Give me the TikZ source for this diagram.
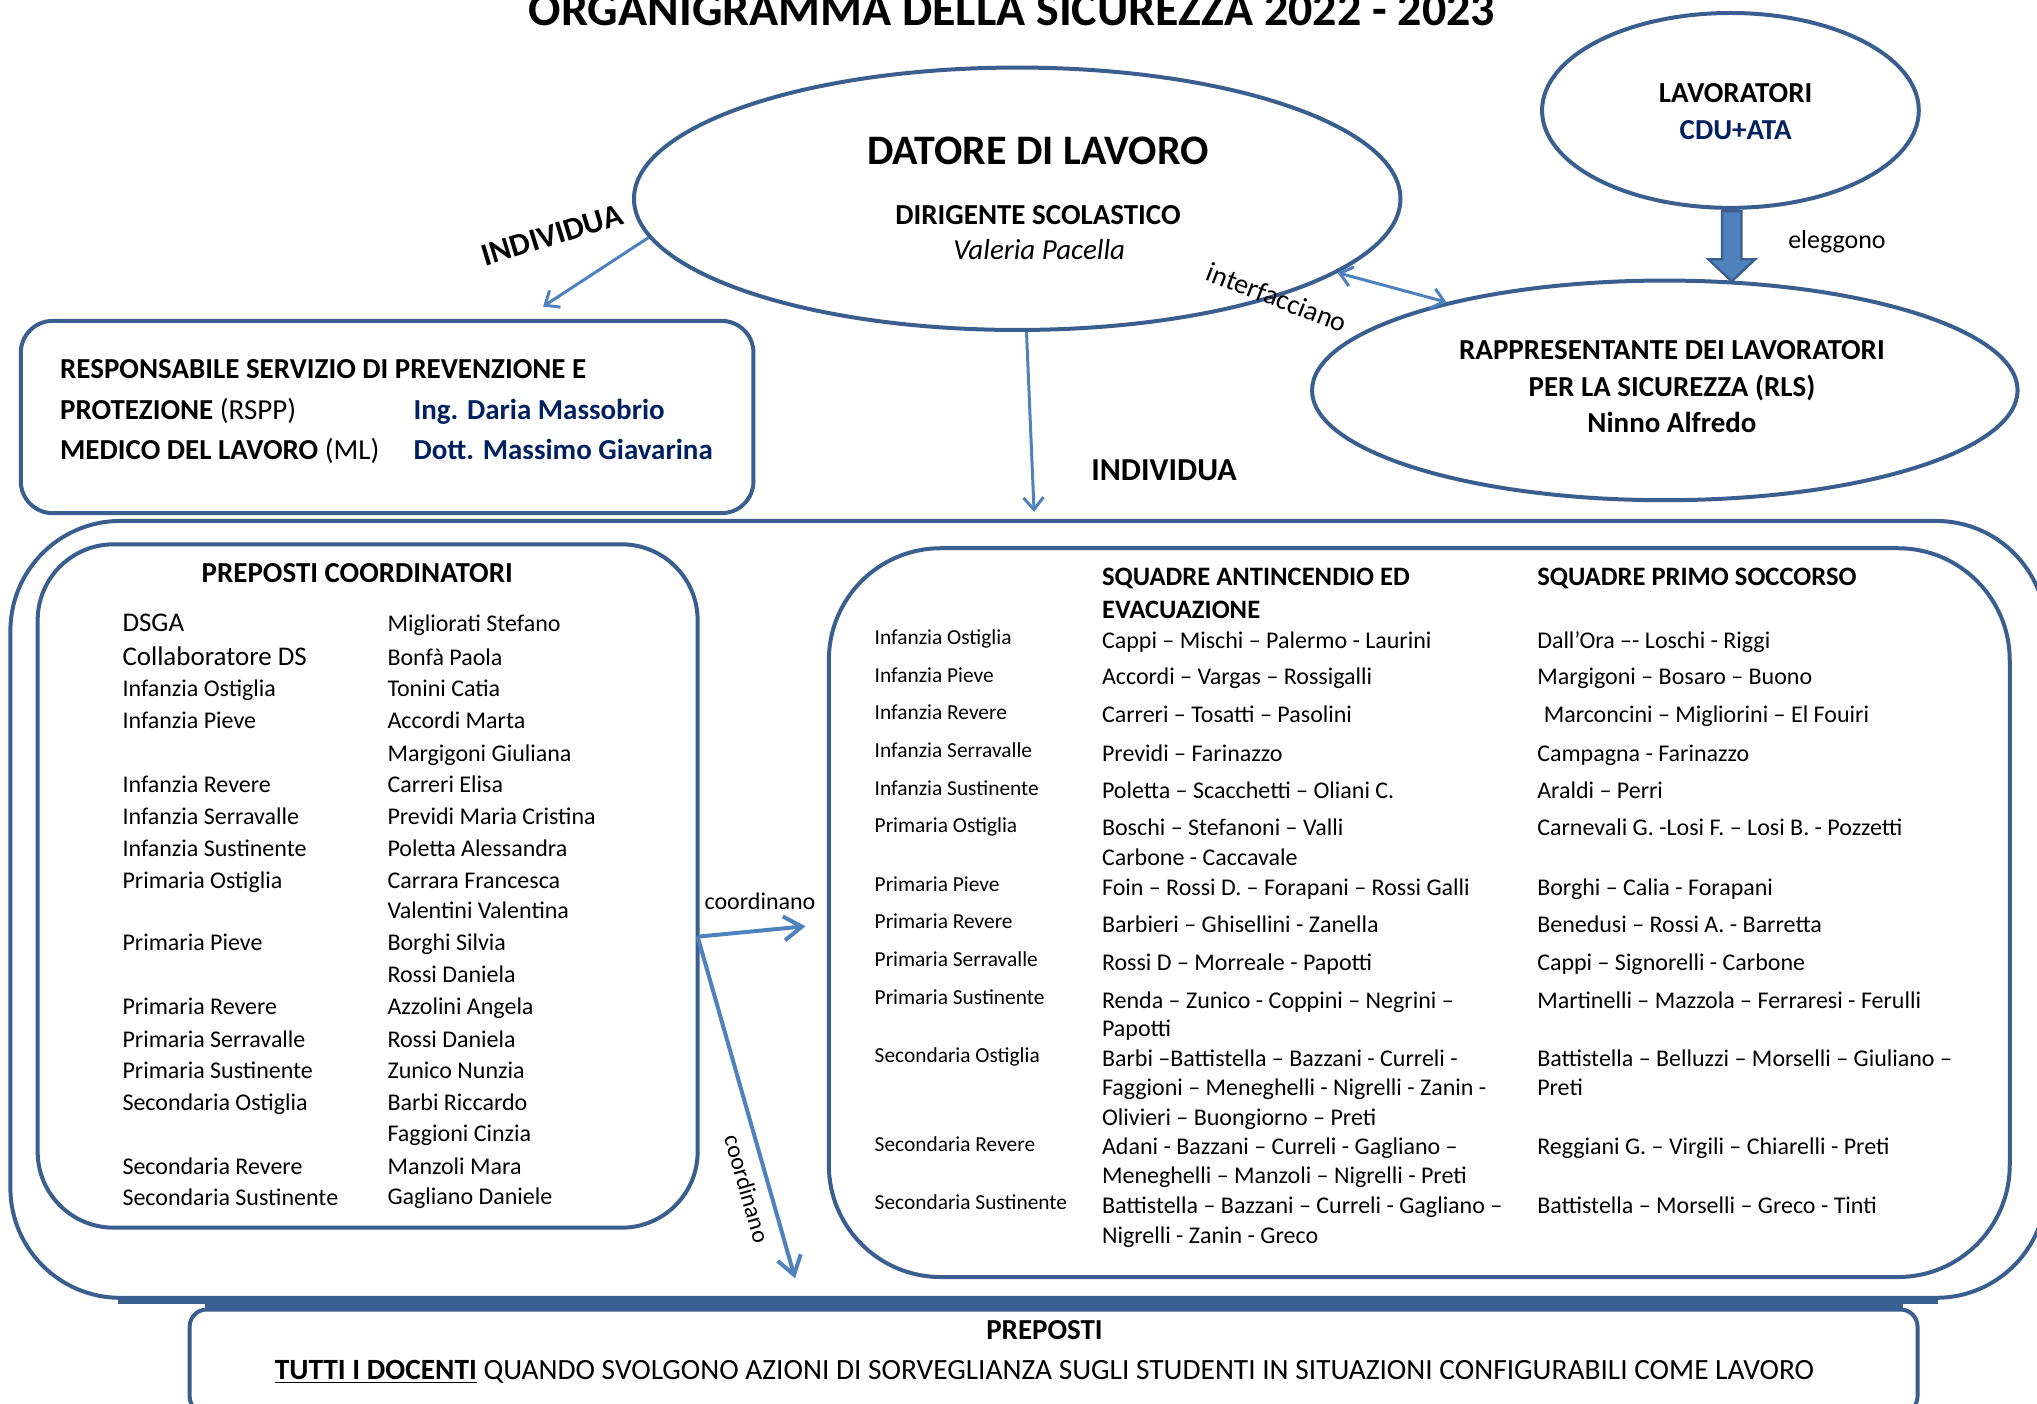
\documentclass[tikz,border=0pt]{standalone}
\usepackage{fontspec}
\setmainfont{Carlito}
\usetikzlibrary{shapes.geometric,arrows.meta,calc}
\definecolor{ol}{HTML}{3A5F8F}
\definecolor{ar}{HTML}{4F81BD}
\definecolor{nv}{HTML}{002060}
\newcommand\myfs[1]{\fontsize{#1}{#1}\selectfont}
\tikzset{
  box/.style={draw=ol, line width=2pt, rectangle, inner sep=0pt},
  ell/.style={draw=ol, line width=2pt, ellipse, inner sep=0pt},
  arr/.style={draw=ar, line width=1.5pt, -{Straight Barb[length=6pt,width=10pt]}},
  coarr/.style={draw=ar, line width=2pt, -{Straight Barb[length=9pt,width=12pt]}},
  tx/.style={inner sep=0pt, anchor=base west},
  tc/.style={inner sep=0pt, anchor=base},
  row/.style={tx, font=\myfs{12}},
  lab/.style={tx, font=\myfs{10.7}},
}
\begin{document}
\begin{tikzpicture}[x=0.65pt,y=-0.65pt]
\useasboundingbox (0,0) rectangle (1568,1080);
\clip (0,0) rectangle (1568,1080);

% title
\node[tc, font=\bfseries\myfs{24}] (title) at (779,20) {ORGANIGRAMMA DELLA SICUREZZA 2022 - 2023};

% ellipses
\node[ell, minimum width=383.5pt, minimum height=131.3pt] (datore) at (783,153) {};
\node[ell, minimum width=188.5pt, minimum height=97.5pt] (lav) at (1332,85) {};
\node[ell, minimum width=353pt, minimum height=109.9pt] (rls) at (1281.5,300.5) {};

\node[tc, font=\bfseries\myfs{21}] (d1) at (799,127) {DATORE DI LAVORO};
\node[tc, font=\bfseries\myfs{14.5}] (d2) at (799,173) {DIRIGENTE SCOLASTICO};
\node[tc, font=\itshape\myfs{14.5}] (d3) at (800,200) {Valeria Pacella};

\node[tc, font=\bfseries\myfs{14.5}] (l1) at (1336,79) {LAVORATORI};
\node[tc, font=\bfseries\myfs{14.5}, text=nv] (l2) at (1336,107) {CDU+ATA};

\node[tc, font=\bfseries\myfs{14.5}] (r1) at (1287,277) {RAPPRESENTANTE DEI LAVORATORI};
\node[tc, font=\bfseries\myfs{14.5}] (r2) at (1287,305) {PER LA SICUREZZA (RLS)};
\node[tc, font=\bfseries\myfs{14.5}] (r3) at (1287,333) {Ninno Alfredo};

% thick arrow lavoratori -> rls
\filldraw[draw=ol, fill=ar, line width=1.2pt, line join=miter]
  ($(lav.south)+(-6.5,1)$) -- ++(15,0) -- ++(0,37) -- ++(10.5,0)
  -- ($(lav.south)+(1,55)$) -- ++(-18,-17) -- ++(10.5,0) -- cycle;
\node[tc, font=\myfs{13}] (eleg) at (1414,191) {eleggono};

% boxes
\node[box, rounded corners=16pt, minimum width=366.6pt, minimum height=96.2pt] (rspp) at (298,321) {};
\node[box, rounded corners=55pt, minimum width=1018.55pt, minimum height=388.7pt] (outer) at (791.5,700) {};
\draw[ol, line width=2pt] ([xshift=55pt,yshift=-0.9pt]outer.south west) -- ([xshift=-55pt,yshift=-0.9pt]outer.south east);
\node[box, rounded corners=38pt, minimum width=330.2pt, minimum height=341.9pt] (pc) at (283,682) {};
\node[box, rounded corners=56pt, minimum width=590.85pt, minimum height=364.65pt] (sq) at (1092.5,702.5) {};
\node[box, rounded corners=8.5pt, minimum width=864.5pt, minimum height=52pt] (prep) at (811,1048) {};
\draw[ol, line width=2pt] ([xshift=8.5pt,yshift=0.9pt]prep.north west) -- ([xshift=-8.5pt,yshift=0.9pt]prep.north east);

% RSPP text
\node[tx, font=\bfseries\myfs{14.5}] (s1) at (46,291) {RESPONSABILE SERVIZIO DI PREVENZIONE E};
\node[tx, font=\myfs{14.5}] (s2) at (46,323) {\textbf{PROTEZIONE} (RSPP)};
\node[tx, font=\myfs{14.5}] (s3) at (46,354) {\textbf{MEDICO DEL LAVORO} (ML)};
\node[tx, font=\bfseries\myfs{14.5}, text=nv] (s4) at (318,323) {Ing. Daria Massobrio};
\node[tx, font=\bfseries\myfs{14.5}, text=nv] (s5) at (318,354) {Dott. Massimo Giavarina};

% arrows from datore
\coordinate (rsppTip) at (418,236);
\draw[arr] (datore.186.7) -- (rsppTip);
\node[inner sep=0pt, font=\bfseries\myfs{16}, rotate=17] (ind1) at (425,181) {INDIVIDUA};

\coordinate (outTip) at (796,394);
\draw[arr] (datore.274) -- (outTip);
\node[inner sep=0pt, font=\bfseries\myfs{16}] (ind2) at (896,362) {INDIVIDUA};

\draw[draw=ar, line width=1.5pt, {Straight Barb[length=6pt,width=10pt]}-{Straight Barb[length=6pt,width=10pt]}] (datore.347) -- (rls.158);
\node[inner sep=0pt, font=\myfs{14}, rotate=-21] (intf) at (983,229) {interfacciano};

% preposti coordinatori
\node[tc, font=\bfseries\myfs{14.5}] (pct) at (275,448) {PREPOSTI COORDINATORI};
\foreach \y/\t in {480/DSGA, 506/Collaboratore DS}
  \node[tx, font=\myfs{13.5}] (pb\y) at (94,\y+6) {\t};
\foreach \y/\t in {530/Infanzia Ostiglia, 555/Infanzia Pieve, 604/Infanzia Revere,
  629/Infanzia Serravalle, 653/Infanzia Sustinente, 678/Primaria Ostiglia,
  726/Primaria Pieve, 775/Primaria Revere, 800/Primaria Serravalle,
  824/Primaria Sustinente, 849/Secondaria Ostiglia, 898/Secondaria Revere,
  922/Secondaria Sustinente}
  \node[row] (pl\y) at (94,\y+6) {\t};
\foreach \y/\t in {480/Migliorati Stefano, 506/Bonfà Paola, 530/Tonini Catia,
  555/Accordi Marta, 580/Margigoni Giuliana, 604/Carreri Elisa,
  629/Previdi Maria Cristina, 653/Poletta Alessandra, 678/Carrara Francesca,
  701/Valentini Valentina, 726/Borghi Silvia, 750/Rossi Daniela,
  775/Azzolini Angela, 800/Rossi Daniela, 824/Zunico Nunzia,
  849/Barbi Riccardo, 873/Faggioni Cinzia, 898/Manzoli Mara, 921/Gagliano Daniele}
  \node[row] (pp\y) at (298,\y+6) {\t};

% coordinano arrows
\coordinate (co) at (537,721);
\coordinate (coTipA) at (620,713);
\coordinate (coTipB) at (612,984);
\draw[coarr] (co) -- (coTipA);
\draw[coarr] (co) -- (coTipB);
\node[inner sep=0pt, font=\myfs{12}] (coA) at (585,694) {coordinano};
\node[inner sep=0pt, font=\myfs{12}, rotate=-74] (coB) at (575,915) {coordinano};

% squadre
\node[tx, font=\bfseries\myfs{13.3}] (h1) at (848,451) {SQUADRE ANTINCENDIO ED};
\node[tx, font=\bfseries\myfs{13.3}] (h2) at (848,476) {EVACUAZIONE};
\node[tx, font=\bfseries\myfs{13.3}] (h3) at (1183,451) {SQUADRE PRIMO SOCCORSO};

\foreach \y/\t in {491/Infanzia Ostiglia, 520/Infanzia Pieve, 549/Infanzia Revere,
  578/Infanzia Serravalle, 607/Infanzia Sustinente, 636/Primaria Ostiglia,
  681/Primaria Pieve, 710/Primaria Revere, 739/Primaria Serravalle,
  768/Primaria Sustinente, 813/Secondaria Ostiglia, 881/Secondaria Revere,
  926/Secondaria Sustinente}
  \node[lab] (ql\y) at (673,\y+5) {\t};

\foreach \y/\t in {493/{Cappi – Mischi – Palermo - Laurini},
  521/{Accordi – Vargas – Rossigalli},
  550/{Carreri – Tosatti – Pasolini},
  580/{Previdi – Farinazzo},
  609/{Poletta – Scacchetti – Oliani C.},
  637/{Boschi – Stefanoni – Valli},
  660/{Carbone - Caccavale},
  683/{Foin – Rossi D. – Forapani – Rossi Galli},
  712/{Barbieri – Ghisellini - Zanella},
  741/{Rossi D – Morreale - Papotti},
  770/{Renda – Zunico - Coppini – Negrini –},
  792/{Papotti},
  815/{Barbi –Battistella – Bazzani - Curreli -},
  837/{Faggioni – Meneghelli - Nigrelli - Zanin  -},
  860/{Olivieri – Buongiorno – Preti},
  883/{Adani - Bazzani – Curreli - Gagliano –},
  905/{Meneghelli – Manzoli – Nigrelli - Preti},
  928/{Battistella – Bazzani – Curreli - Gagliano –},
  951/{Nigrelli - Zanin - Greco}}
  \node[row] (qa\y) at (848,\y+6) {\t};

\foreach \y/\t in {493/{Dall’Ora –- Loschi - Riggi},
  521/{Margigoni – Bosaro – Buono},
  580/{Campagna - Farinazzo},
  609/{Araldi – Perri},
  637/{Carnevali G. -Losi F. – Losi B. - Pozzetti},
  683/{Borghi – Calia - Forapani},
  712/{Benedusi – Rossi A. - Barretta},
  741/{Cappi – Signorelli - Carbone},
  770/{Martinelli – Mazzola – Ferraresi - Ferulli},
  815/{Battistella – Belluzzi – Morselli – Giuliano –},
  837/{Preti},
  883/{Reggiani G. – Virgili – Chiarelli - Preti},
  928/{Battistella – Morselli – Greco - Tinti}}
  \node[row] (qb\y) at (1183,\y+6) {\t};
\node[row] (qb550) at (1188,556) {Marconcini – Migliorini – El Fouiri};

% preposti
\node[tc, font=\bfseries\myfs{14.5}] (p1) at (804,1031) {PREPOSTI};
\node[tc, font=\myfs{14.7}] (p2) at (804,1062) {\underline{\textbf{TUTTI I DOCENTI}} QUANDO SVOLGONO AZIONI DI SORVEGLIANZA SUGLI STUDENTI IN SITUAZIONI CONFIGURABILI COME LAVORO};
\end{tikzpicture}
\end{document}
